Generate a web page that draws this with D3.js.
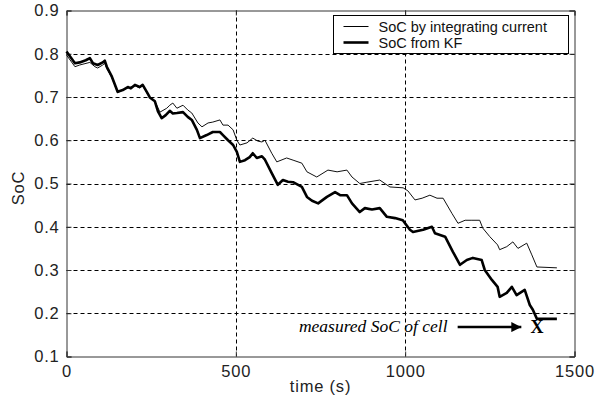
<!DOCTYPE html>
<html>
<head>
<meta charset="utf-8">
<script src="https://cdn.jsdelivr.net/npm/d3@7"></script>
<style>
  body { margin: 0; background: #fff; }
  svg { display: block; }
</style>
</head>
<body>
<div id="chart"></div>
<script>
// time (s) and SoC
var timeKF = [0, 25, 39, 57, 69, 78, 92, 107, 113, 119, 134, 151, 166, 181, 190, 202, 216, 225, 237, 246, 261, 270, 281, 293, 305, 314, 326, 344, 358, 370, 385, 394, 414, 432, 453, 462, 477, 492, 503, 512, 527, 541, 550, 562, 577, 586, 606, 624, 639, 654, 669, 695, 710, 725, 743, 769, 793, 808, 828, 843, 866, 881, 902, 925, 946, 970, 993, 1014, 1023, 1053, 1079, 1088, 1118, 1141, 1162, 1182, 1200, 1226, 1235, 1256, 1273, 1279, 1300, 1315, 1329, 1353, 1368, 1377, 1389, 1448]
var socKF = [0.805, 0.778, 0.78, 0.785, 0.79, 0.778, 0.774, 0.78, 0.784, 0.77, 0.747, 0.712, 0.716, 0.723, 0.72, 0.728, 0.723, 0.728, 0.712, 0.699, 0.69, 0.667, 0.651, 0.658, 0.668, 0.662, 0.663, 0.665, 0.654, 0.647, 0.624, 0.605, 0.612, 0.619, 0.619, 0.612, 0.6, 0.589, 0.573, 0.55, 0.554, 0.561, 0.57, 0.559, 0.563, 0.555, 0.524, 0.497, 0.508, 0.504, 0.503, 0.492, 0.469, 0.46, 0.454, 0.469, 0.48, 0.473, 0.473, 0.454, 0.434, 0.443, 0.44, 0.443, 0.423, 0.42, 0.415, 0.393, 0.388, 0.393, 0.4, 0.385, 0.377, 0.342, 0.312, 0.323, 0.328, 0.323, 0.3, 0.277, 0.261, 0.238, 0.247, 0.261, 0.242, 0.254, 0.219, 0.208, 0.187, 0.187]

var timeInt = [0, 25, 39, 69, 84, 92, 107, 113, 119, 134, 151, 166, 181, 202, 216, 225, 237, 246, 261, 276, 296, 305, 314, 326, 344, 358, 370, 388, 400, 418, 432, 453, 462, 477, 492, 503, 512, 533, 550, 565, 577, 586, 606, 621, 650, 669, 695, 710, 739, 772, 799, 828, 843, 866, 887, 925, 955, 994, 1008, 1029, 1050, 1073, 1094, 1112, 1138, 1156, 1177, 1197, 1220, 1229, 1250, 1273, 1279, 1300, 1318, 1333, 1359, 1374, 1389, 1448]
var socInt = [0.797, 0.77, 0.774, 0.78, 0.77, 0.767, 0.774, 0.778, 0.765, 0.745, 0.71, 0.716, 0.721, 0.726, 0.721, 0.726, 0.71, 0.7, 0.69, 0.665, 0.674, 0.681, 0.686, 0.674, 0.681, 0.67, 0.663, 0.64, 0.631, 0.64, 0.642, 0.647, 0.635, 0.635, 0.624, 0.6, 0.589, 0.594, 0.605, 0.598, 0.596, 0.6, 0.57, 0.55, 0.559, 0.554, 0.547, 0.527, 0.515, 0.531, 0.527, 0.531, 0.515, 0.5, 0.503, 0.508, 0.492, 0.49, 0.483, 0.462, 0.466, 0.473, 0.466, 0.466, 0.431, 0.408, 0.415, 0.415, 0.415, 0.397, 0.377, 0.358, 0.347, 0.354, 0.365, 0.35, 0.362, 0.335, 0.307, 0.305]

var xTicks = [0, 500, 1000, 1500]
var yTicks = [0.1, 0.2, 0.3, 0.4, 0.5, 0.6, 0.7, 0.8, 0.9]
var legendLabels = ["SoC by integrating current", "SoC from KF"]
var measuredTime = 1389
var measuredSoC = 0.168

var width = 597
var height = 405
var plotLeft = 66.5, plotRight = 574.5, plotTop = 10.5, plotBottom = 356.5

var x = d3.scaleLinear().domain([0, 1500]).range([plotLeft, plotRight])
var y = d3.scaleLinear().domain([0.1, 0.9]).range([plotBottom, plotTop])

var svg = d3.select("#chart")
  .append("svg")
  .attr("width", width)
  .attr("height", height)

svg.append("rect")
  .attr("width", width)
  .attr("height", height)
  .attr("fill", "#fff")

//grid
svg.append("g")
  .selectAll("line")
  .data(yTicks.slice(1, -1))
  .enter()
  .append("line")
  .attr("x1", plotLeft).attr("x2", plotRight)
  .attr("y1", function (d) { return Math.round(y(d)) + 0.5 })
  .attr("y2", function (d) { return Math.round(y(d)) + 0.5 })
  .attr("stroke", "#000")
  .attr("stroke-dasharray", "4,3")

svg.append("g")
  .selectAll("line")
  .data(xTicks.slice(1, -1))
  .enter()
  .append("line")
  .attr("x1", function (d) { return Math.round(x(d)) + 0.5 })
  .attr("x2", function (d) { return Math.round(x(d)) + 0.5 })
  .attr("y1", plotTop).attr("y2", plotBottom)
  .attr("stroke", "#000")
  .attr("stroke-dasharray", "4,3")

//axes, ticks pointing inside like matlab
svg.append("g")
  .attr("transform", "translate(0," + plotBottom + ")")
  .call(d3.axisBottom(x).tickValues(xTicks).tickSize(-5).tickPadding(9).tickFormat(d3.format("d")))
svg.append("g")
  .attr("transform", "translate(" + plotLeft + ",0)")
  .call(d3.axisLeft(y).tickValues(yTicks).tickSize(-5).tickPadding(7).tickFormat(d3.format(".1f")))

svg.append("g")
  .attr("transform", "translate(0," + plotTop + ")")
  .call(d3.axisTop(x).tickValues(xTicks).tickSize(-5).tickFormat(""))
svg.append("g")
  .attr("transform", "translate(" + plotRight + ",0)")
  .call(d3.axisRight(y).tickValues(yTicks).tickSize(-5).tickFormat(""))

svg.selectAll(".domain").attr("stroke", "#333")
svg.selectAll(".tick line").attr("stroke", "#333")
svg.selectAll(".tick text")
  .attr("font-family", "Liberation Sans, Arial, sans-serif")
  .attr("font-size", 16.5)
  .attr("letter-spacing", 0.8)
  .attr("fill", "#222")

//series
var lineGen = d3.line()
  .x(function (d) { return x(d[0]) })
  .y(function (d) { return y(d[1]) })

svg.append("path")
  .datum(d3.zip(timeInt, socInt))
  .attr("d", lineGen)
  .attr("fill", "none")
  .attr("stroke", "#111")
  .attr("stroke-width", 1)

svg.append("path")
  .datum(d3.zip(timeKF, socKF))
  .attr("d", lineGen)
  .attr("fill", "none")
  .attr("stroke", "#000")
  .attr("stroke-width", 2.6)
  .attr("stroke-linejoin", "round")

//annotation
var ay = y(measuredSoC)
svg.append("defs").append("marker")
  .attr("id", "arrow")
  .attr("viewBox", "0 0 10 10")
  .attr("refX", 10).attr("refY", 5)
  .attr("markerWidth", 4).attr("markerHeight", 4)
  .attr("orient", "auto")
  .append("path")
  .attr("d", "M0,0 L10,5 L0,10 Z")
  .attr("fill", "#000")

svg.append("line")
  .attr("x1", x(1155)).attr("x2", x(1343))
  .attr("y1", ay).attr("y2", ay)
  .attr("stroke", "#000")
  .attr("stroke-width", 2.5)
  .attr("marker-end", "url(#arrow)")

svg.append("text")
  .attr("x", x(1125))
  .attr("y", ay + 5)
  .attr("text-anchor", "end")
  .attr("font-family", "Liberation Serif, Times New Roman, serif")
  .attr("font-style", "italic")
  .attr("font-size", 17.5)
  .text("measured SoC of cell")

svg.append("text")
  .attr("x", x(measuredTime))
  .attr("y", ay + 6)
  .attr("text-anchor", "middle")
  .attr("font-family", "Liberation Serif, Times New Roman, serif")
  .attr("font-weight", "bold")
  .attr("font-size", 18)
  .text("X")

//axis labels
svg.append("text")
  .attr("x", (plotLeft + plotRight) / 2)
  .attr("y", 392)
  .attr("text-anchor", "middle")
  .attr("font-family", "Liberation Sans, Arial, sans-serif")
  .attr("font-size", 16.5)
  .attr("letter-spacing", 0.8)
  .attr("fill", "#222")
  .text("time (s)")

svg.append("text")
  .attr("transform", "translate(24,188) rotate(-90)")
  .attr("text-anchor", "middle")
  .attr("font-family", "Liberation Sans, Arial, sans-serif")
  .attr("font-size", 16.5)
  .attr("letter-spacing", 0.8)
  .attr("fill", "#222")
  .text("SoC")

//legend
var legend = svg.append("g").attr("transform", "translate(333.5,15.5)")
legend.append("rect")
  .attr("width", 235).attr("height", 38)
  .attr("fill", "#fff")
  .attr("stroke", "#000")

var rows = legend.selectAll(".row")
  .data(legendLabels)
  .enter()
  .append("g")
  .attr("transform", function (d, i) { return "translate(0," + (11 + i * 16) + ")" })

rows.append("line")
  .attr("x1", 10).attr("x2", 35)
  .attr("stroke", "#000")
  .attr("stroke-width", function (d, i) { return i == 0 ? 1 : 2.6 })

rows.append("text")
  .attr("x", 45)
  .attr("y", 5)
  .attr("font-family", "Liberation Sans, Arial, sans-serif")
  .attr("font-size", 14.5)
  .attr("fill", "#111")
  .text(function (d) { return d })
</script>
</body>
</html>
